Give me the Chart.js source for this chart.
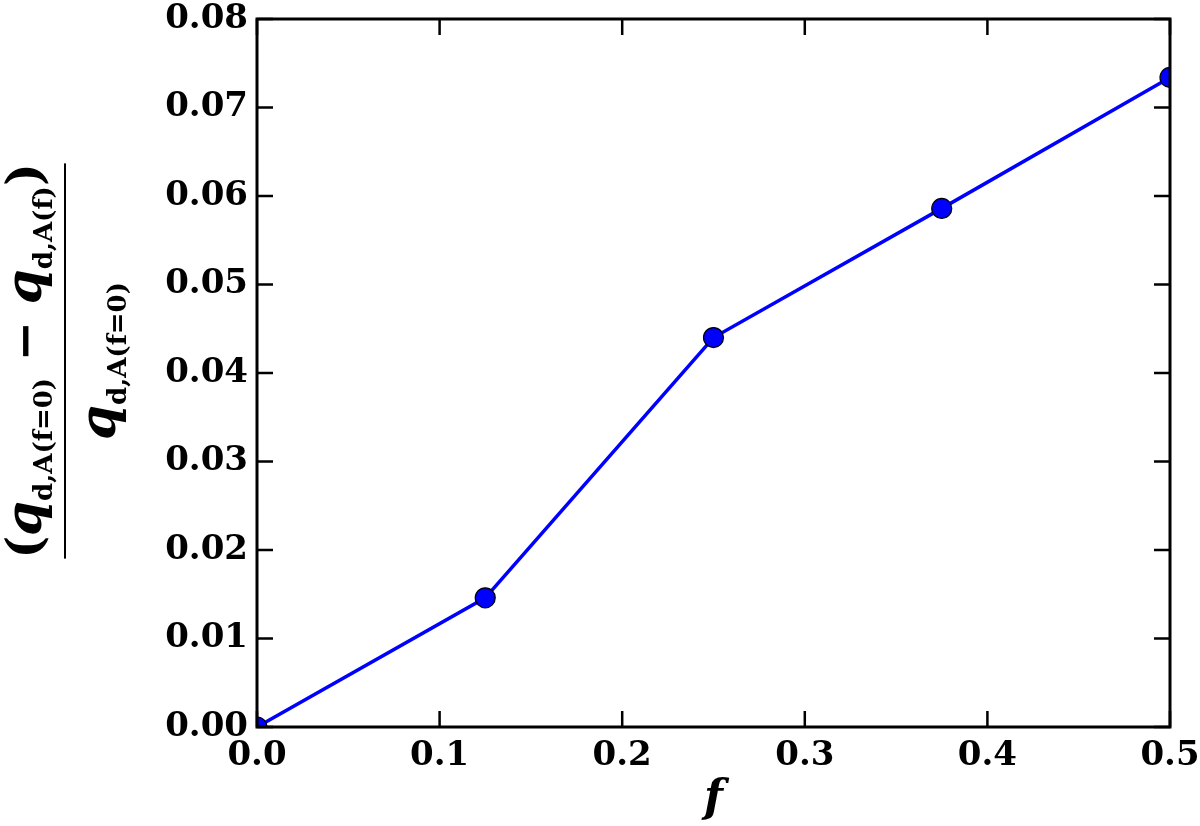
<!DOCTYPE html>
<html>
<head>
<meta charset="utf-8">
<script src="https://cdn.jsdelivr.net/npm/chart.js@4"></script>
<style>
  html, body { margin: 0; padding: 0; background: #fff; }
  #wrap { width: 1200px; height: 826px; }
</style>
</head>
<body>
<div id="wrap"><canvas id="chart" width="1200" height="826"></canvas></div>
<script>
// DATA
const fValues = [0.0, 0.125, 0.25, 0.375, 0.5];
const relDiff = [0.0, 0.0146, 0.0440, 0.0586, 0.0734];
const xTickValues = [0.0, 0.1, 0.2, 0.3, 0.4, 0.5];
const yTickValues = [0.00, 0.01, 0.02, 0.03, 0.04, 0.05, 0.06, 0.07, 0.08];

const SERIF = "'DejaVu Serif', 'Liberation Serif', serif";
const TICK_LEN = 16;

// --- inward ticks on all four sides + black frame (matplotlib style) ---
const frameTicks = {
    id: 'frameTicks',
    afterDatasetsDraw(chart) {
        const ctx = chart.ctx;
        const a = chart.chartArea;
        const xs = chart.scales.x, ys = chart.scales.y;
        ctx.save();
        ctx.strokeStyle = '#000';
        ctx.lineWidth = 2.5;
        ctx.beginPath();
        xs.ticks.forEach(t => {
            const px = xs.getPixelForValue(t.value);
            ctx.moveTo(px, a.bottom); ctx.lineTo(px, a.bottom - TICK_LEN);
            ctx.moveTo(px, a.top); ctx.lineTo(px, a.top + TICK_LEN);
        });
        ys.ticks.forEach(t => {
            const py = ys.getPixelForValue(t.value);
            ctx.moveTo(a.left, py); ctx.lineTo(a.left + TICK_LEN, py);
            ctx.moveTo(a.right, py); ctx.lineTo(a.right - TICK_LEN, py);
        });
        ctx.stroke();
        ctx.lineWidth = 3;
        ctx.strokeRect(a.left, a.top, a.right - a.left, a.bottom - a.top);
        ctx.restore();
    }
};

// --- y axis title as a fraction with subscripts ---
function drawRun(ctx, parts, baseY) {
    let w = 0;
    parts.forEach(p => { ctx.font = p.font; w += ctx.measureText(p.t).width; });
    let x = -w / 2;
    parts.forEach(p => {
        ctx.font = p.font;
        ctx.fillText(p.t, x, baseY + (p.dy || 0));
        x += ctx.measureText(p.t).width;
    });
    return w;
}

const fractionTitle = {
    id: 'fractionTitle',
    afterDraw(chart) {
        const ctx = chart.ctx;
        const main = `bold 48px ${SERIF}`;
        const ital = `italic bold 50px ${SERIF}`;
        const sub = `bold 26px ${SERIF}`;
        const num = [
            { t: '(', font: main },
            { t: 'q', font: ital },
            { t: 'd,A(f=0)', font: sub, dy: 11 },
            { t: ' \u2212 ', font: main },
            { t: 'q', font: ital },
            { t: 'd,A(f)', font: sub, dy: 11 },
            { t: ')', font: main }
        ];
        const den = [
            { t: 'q', font: ital },
            { t: 'd,A(f=0)', font: sub, dy: 11 }
        ];
        ctx.save();
        ctx.translate(65, 361);
        ctx.rotate(-Math.PI / 2);
        ctx.fillStyle = '#000';
        ctx.textBaseline = 'alphabetic';
        const w = drawRun(ctx, num, -24);
        drawRun(ctx, den, 50);
        ctx.fillRect(-w / 2, -1, w, 2);
        ctx.restore();
    }
};

new Chart(document.getElementById('chart'), {
    type: 'line',
    data: {
        datasets: [{
            data: fValues.map((f, i) => ({ x: f, y: relDiff[i] })),
            borderColor: '#0000ff',
            borderWidth: 3.5,
            pointRadius: 10,
            pointBackgroundColor: '#0000ff',
            pointBorderColor: '#000000',
            pointBorderWidth: 1.2,
            tension: 0,
            clip: 0
        }]
    },
    options: {
        responsive: false,
        animation: false,
        layout: { padding: { top: 19, right: 30, left: 0, bottom: 0 } },
        plugins: { legend: { display: false }, tooltip: { enabled: false } },
        scales: {
            x: {
                type: 'linear',
                min: 0, max: 0.5,
                afterBuildTicks: s => { s.ticks = xTickValues.map(v => ({ value: v })); },
                afterFit: s => { s.height = 99; s.paddingLeft = 0; s.paddingRight = 0; },
                grid: { display: false, drawTicks: false },
                border: { display: false },
                ticks: {
                    padding: 9,
                    color: '#000',
                    maxRotation: 0,
                    font: { family: SERIF, size: 34, weight: 'bold' },
                    callback: v => v.toFixed(1)
                },
                title: {
                    display: true,
                    text: 'f',
                    color: '#000',
                    padding: { top: 0, bottom: 0 },
                    font: { family: SERIF, size: 44, weight: 'bold', style: 'italic' }
                }
            },
            y: {
                min: 0, max: 0.08,
                afterBuildTicks: s => { s.ticks = yTickValues.map(v => ({ value: v })); },
                afterFit: s => { s.width = 257; s.paddingTop = 0; s.paddingBottom = 0; },
                grid: { display: false, drawTicks: false },
                border: { display: false },
                ticks: {
                    padding: 9,
                    color: '#000',
                    font: { family: SERIF, size: 34, weight: 'bold' },
                    callback: v => v.toFixed(2)
                }
            }
        }
    },
    plugins: [frameTicks, fractionTitle]
});
</script>
</body>
</html>
